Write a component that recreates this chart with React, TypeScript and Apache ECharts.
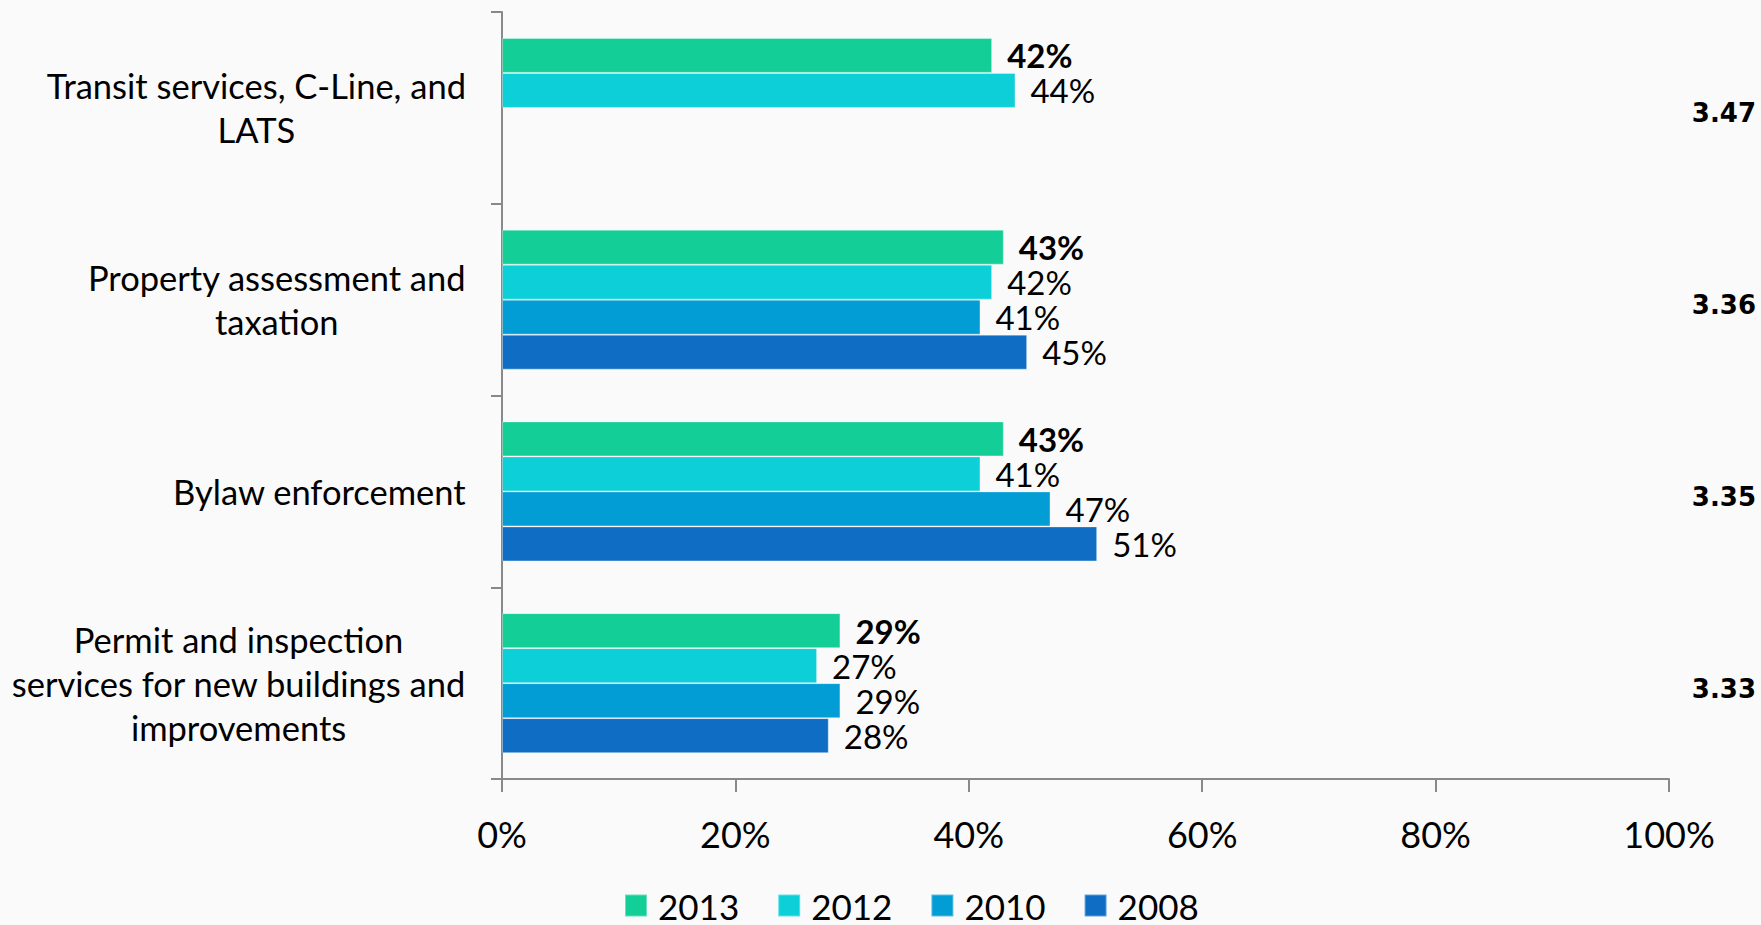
import React, { useEffect, useRef } from "react";
import * as echarts from "echarts";

const categories = [
  "Transit services, C-Line, and\nLATS",
  "Property assessment and\ntaxation",
  "Bylaw enforcement",
  "Permit and inspection\nservices for new buildings and\nimprovements",
];
const seriesNames = ["2013", "2012", "2010", "2008"];
const values2013 = [42, 43, 43, 29];
const values2012 = [44, 42, 41, 27];
const values2010 = [null, 41, 47, 29];
const values2008 = [null, 45, 51, 28];
const meanScores = ["3.47", "3.36", "3.35", "3.33"];
const xTicks = [0, 20, 40, 60, 80, 100];

const colors = ["#13CF97", "#0DCFD8", "#029DD5", "#0F6EC4"];
const FONT = "Lato, 'Noto Sans', sans-serif";

export default function App() {
  const ref = useRef<HTMLDivElement>(null);
  useEffect(() => {
    if (!ref.current) return;
    const chart = echarts.init(ref.current, undefined, { renderer: "svg" });
    const allValues = [values2013, values2012, values2010, values2008];
    const series = seriesNames.map((name, i) => ({
      name,
      type: "bar",
      yAxisIndex: 0,
      data: allValues[i],
      barWidth: 35,
      barGap: "0%",
      itemStyle: {
        color: colors[i],
        borderColor: "rgba(255,255,255,0.35)",
        borderWidth: 1,
      },
      label: {
        show: true,
        position: "right",
        distance: 15,
        formatter: "{c}%",
        fontFamily: FONT,
        fontSize: 33,
        lineHeight: 30,
        fontWeight: i === 0 ? "bold" : "normal",
        color: "#000",
      },
    }));
    chart.setOption({
      animation: false,
      backgroundColor: "#fafafa",
      grid: { left: 502, right: 92, top: 12, bottom: 146, containLabel: false },
      legend: {
        data: seriesNames,
        left: 619,
        top: 883,
        icon: "rect",
        itemWidth: 22,
        itemHeight: 22,
        itemGap: 38,
        textStyle: {
          fontFamily: FONT,
          fontSize: 35,
          lineHeight: 35,
          color: "#000",
          padding: [0, 0, 0, 6],
        },
      },
      xAxis: {
        type: "value",
        min: xTicks[0],
        max: xTicks[xTicks.length - 1],
        interval: 20,
        axisLine: { show: true, lineStyle: { color: "#898989", width: 2 } },
        axisTick: { show: true, length: 13, lineStyle: { color: "#898989", width: 2 } },
        splitLine: { show: false },
        axisLabel: {
          formatter: "{value}%",
          margin: 37,
          fontFamily: FONT,
          fontSize: 36,
          color: "#000",
        },
      },
      yAxis: [
        {
          type: "category",
          inverse: true,
          data: categories,
          axisLine: { show: true, lineStyle: { color: "#898989", width: 2 } },
          axisTick: { show: true, length: 11, lineStyle: { color: "#898989", width: 2 } },
          axisLabel: {
            margin: 36,
            align: "right",
            formatter: (v: string) =>
              v
                .split("\n")
                .map((l) => "{c|" + l + "}")
                .join("\n"),
            rich: {
              c: {
                align: "center",
                fontFamily: FONT,
                fontSize: 34.5,
                lineHeight: 44,
                color: "#000",
              },
            },
          },
        },
        {
          type: "category",
          inverse: true,
          position: "right",
          data: meanScores,
          axisLine: { show: false },
          axisTick: { show: false },
          axisLabel: {
            margin: 87,
            align: "right",
            verticalAlign: "top",
            lineHeight: 11,
            fontFamily: "'DejaVu Sans', Verdana, sans-serif",
            fontWeight: "bold",
            fontSize: 26,
            color: "#000",
          },
        },
      ],
      series,
    });
    return () => chart.dispose();
  }, []);
  return (
    <div
      ref={ref}
      style={{ position: "absolute", left: 0, top: 0, width: 1761, height: 925 }}
    />
  );
}
